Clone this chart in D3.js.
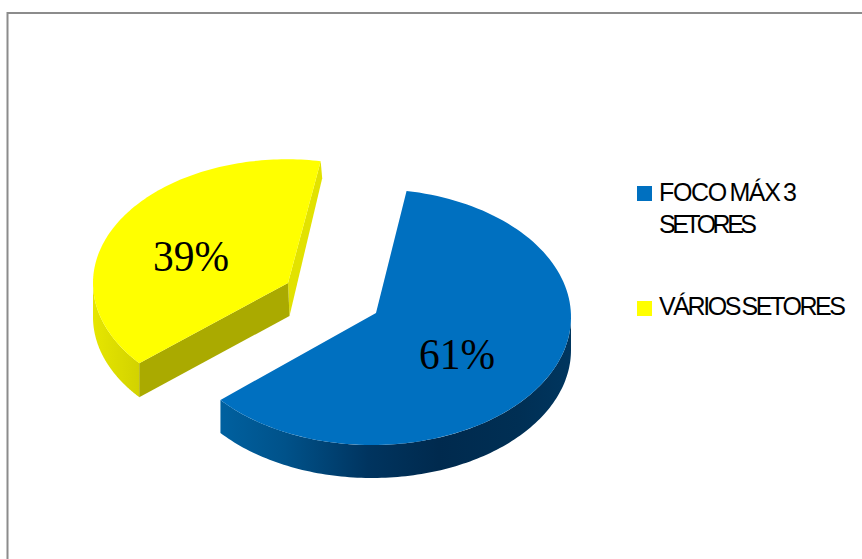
<!DOCTYPE html>
<html>
<head>
<meta charset="utf-8">
<style>
  html, body { margin: 0; padding: 0; background: #fff; }
  svg { display: block; }
</style>
<script src="https://cdn.jsdelivr.net/npm/d3@7/dist/d3.min.js"></script>
</head>
<body>
<svg id="chart" width="862" height="559"></svg>
<script>
// Share of companies by sector focus
const categories = ["FOCO MÁX 3 SETORES", "VÁRIOS SETORES"];
const shares = [61, 39];
const sliceColors = ["#0070c0", "#ffff00"];
const legendLines = [["FOCO MÁX 3", "SETORES"], ["VÁRIOS SETORES"]];

const svg = d3.select("#chart");
const defs = svg.append("defs");

// Chart frame: only the top and left edges fall inside the view
svg.append("path")
  .attr("d", "M7.5,559V13H862")
  .attr("fill", "none")
  .attr("stroke", "#8c8c8c")
  .attr("stroke-width", 2);

// Pie layout, rotated so the first slice begins just right of twelve o'clock
const firstAngle = 10 * Math.PI / 180;
const pie = d3.pie().sort(null)
  .startAngle(firstAngle)
  .endAngle(firstAngle + 2 * Math.PI);
const slices = pie(shares);

// Per-slice placement of the exploded, tilted discs; perspective moves the
// visible apex slightly away from the centre of the rim ellipse
const discs = [
  { cx: 372, cy: 317, rx: 199, ry: 128, apexX: 376, apexY: 313, depth: 33 },
  { cx: 287, cy: 283, rx: 194, ry: 123.7, apexX: 288, apexY: 283, depth: 34, backDepth: 17 }
];

// Pixel position of a point on a disc rim, for a pie angle
const rimX = (d, a) => d.cx + d.rx * Math.sin(a);
const rimY = (d, a) => d.cy - d.ry * Math.cos(a);
const rimPoints = (d, a0, a1, dy = 0) =>
  d3.range(0, 121).map(i => {
    const a = a0 + (a1 - a0) * i / 120;
    return [rimX(d, a), rimY(d, a) + dy];
  });

// Closed path of the rim wall between two angles
const wallPath = (d, a0, a1) =>
  d3.line()(rimPoints(d, a0, a1).concat(rimPoints(d, a1, a0, d.depth))) + "Z";

function hGradient(id, x0, x1, stops) {
  const g = defs.append("linearGradient")
    .attr("id", id)
    .attr("gradientUnits", "userSpaceOnUse")
    .attr("x1", x0).attr("x2", x1).attr("y1", 0).attr("y2", 0);
  stops.forEach(s => g.append("stop").attr("offset", s[0]).attr("stop-color", s[1]));
}

hGradient("blueWall", 222, 571, [
  [0, "#00609f"], [0.18, "#00528a"], [0.42, "#00345f"],
  [0.62, "#002a4e"], [0.85, "#002f54"], [1, "#00365f"]
]);
hGradient("yellowWall", 93, 140, [[0, "#e6e600"], [1, "#d2d200"]]);

// Yellow slice: cut faces and outer wall
const y = slices[1], yd = discs[1];
const yLeft = 3 * Math.PI / 2;
svg.append("path")
  .attr("d", d3.line()([
    [yd.apexX, yd.apexY],
    [rimX(yd, y.endAngle), rimY(yd, y.endAngle)],
    [rimX(yd, y.endAngle) + 1.5, rimY(yd, y.endAngle) + yd.backDepth],
    [yd.apexX + 1.5, yd.apexY + yd.depth - 1]
  ]) + "Z")
  .attr("fill", "#e2e200");
svg.append("path")
  .attr("d", wallPath(yd, y.startAngle, yLeft))
  .attr("fill", "url(#yellowWall)");
svg.append("path")
  .attr("d", d3.line()([
    [yd.apexX, yd.apexY],
    [rimX(yd, y.startAngle), rimY(yd, y.startAngle)],
    [rimX(yd, y.startAngle), rimY(yd, y.startAngle) + yd.depth],
    [yd.apexX + 1.5, yd.apexY + yd.depth - 1]
  ]) + "Z")
  .attr("fill", "#aaaa00");

// Blue slice: outer wall only, its cut faces point away from the viewer
const b = slices[0], bd = discs[0];
svg.append("path")
  .attr("d", wallPath(bd, Math.PI / 2, b.endAngle))
  .attr("fill", "url(#blueWall)");

// Tops of both slices
slices.forEach((s, i) => {
  const d = discs[i];
  svg.append("path")
    .attr("d", d3.line()([[d.apexX, d.apexY]].concat(rimPoints(d, s.startAngle, s.endAngle))) + "Z")
    .attr("fill", sliceColors[i]);
});

// Percentage labels
const labelAnchors = [[419, 369], [153, 271]];
svg.selectAll("text.pct").data(shares).join("text")
  .attr("class", "pct")
  .attr("x", (d, i) => labelAnchors[i][0])
  .attr("y", (d, i) => labelAnchors[i][1])
  .attr("font-family", "'Liberation Serif', serif")
  .attr("font-size", 44)
  .attr("textLength", 76)
  .attr("lengthAdjust", "spacingAndGlyphs")
  .attr("fill", "#000")
  .text(d => d + "%");

// Legend
const legendY = [186, 301];
const lineWidths = [[138, 98], [187]];
const legend = svg.selectAll("g.legend").data(categories).join("g")
  .attr("class", "legend")
  .attr("data-name", d => d)
  .attr("transform", (d, i) => `translate(637,${legendY[i]})`);
legend.append("rect")
  .attr("width", 15).attr("height", 15)
  .attr("fill", (d, i) => sliceColors[i]);
legend.each(function (d, i) {
  d3.select(this).selectAll("text").data(legendLines[i]).join("text")
    .attr("x", 22)
    .attr("y", (t, j) => (i === 0 ? 15 : 14) + j * 32)
    .attr("font-family", "'Liberation Sans', Arial, sans-serif")
    .attr("font-size", 25)
    .attr("word-spacing", -2)
    .attr("fill", "#000")
    .attr("textLength", (t, j) => lineWidths[i][j])
    .attr("lengthAdjust", "spacing")
    .text(t => t);
});
</script>
</body>
</html>
